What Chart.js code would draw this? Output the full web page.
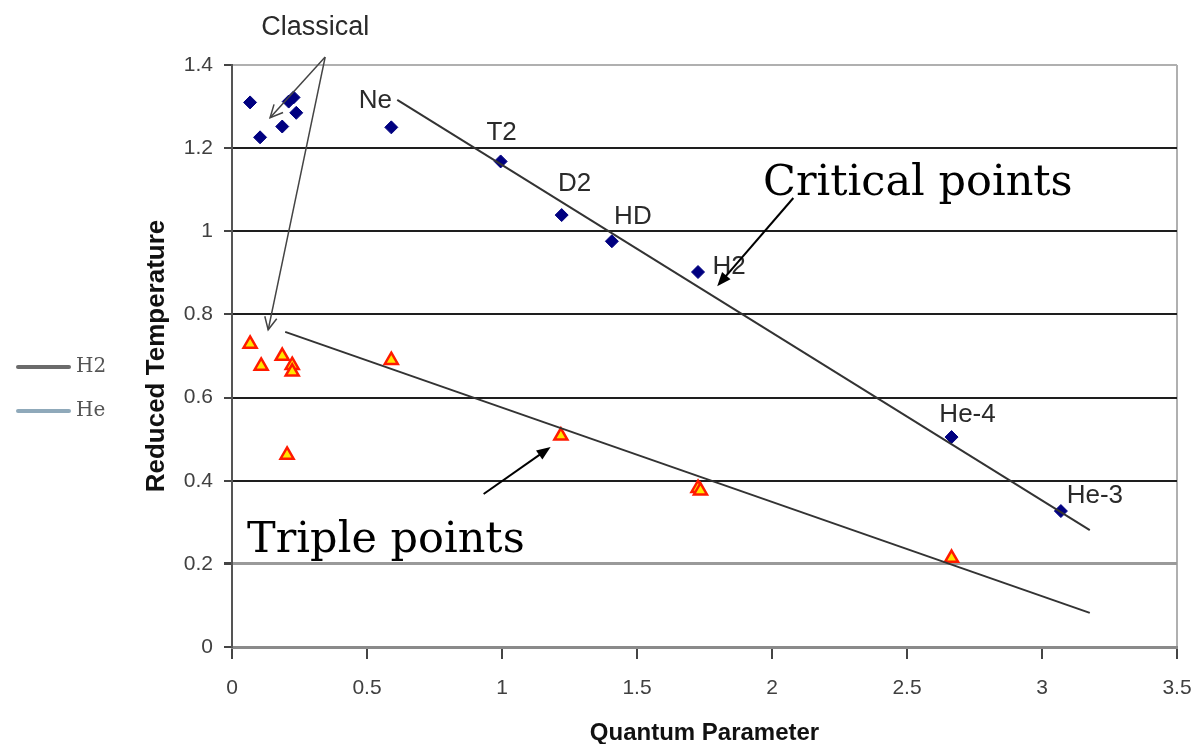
<!DOCTYPE html>
<html>
<head>
<meta charset="utf-8">
<script src="https://cdn.jsdelivr.net/npm/chart.js@4.4.0/dist/chart.umd.min.js"></script>
<style>
  html, body { margin: 0; padding: 0; background: #fff; }
</style>
</head>
<body>
<canvas id="chartContainer" width="1191" height="744"></canvas>
<script>
// critical points (diamonds)
const critX = [0.067, 0.104, 0.186, 0.21, 0.228, 0.238, 0.59, 0.995, 1.221, 1.407, 1.726, 2.665, 3.07];
const critY = [1.31, 1.226, 1.252, 1.312, 1.322, 1.285, 1.25, 1.168, 1.039, 0.976, 0.902, 0.505, 0.327];
const critNames = ['', '', '', '', '', '', 'Ne', 'T2', 'D2', 'HD', 'H2', 'He-4', 'He-3'];

// triple points (triangles)
const tripX = [0.067, 0.108, 0.186, 0.223, 0.223, 0.204, 0.59, 1.218, 1.726, 1.735, 2.665];
const tripY = [0.729, 0.676, 0.700, 0.678, 0.662, 0.462, 0.690, 0.508, 0.382, 0.376, 0.214];

// fitted trend lines
const critFitX = [0.612, 3.177];
const critFitY = [1.316, 0.281];
const tripFitX = [0.197, 3.177];
const tripFitY = [0.758, 0.082];

// legend-only series
const legendNames = ['H2', 'He'];

const xTicks = { min: 0, max: 3.5, step: 0.5 };
const yTicks = { min: 0, max: 1.4, step: 0.2 };

const toPoints = (xs, ys) => xs.map((v, i) => ({ x: v, y: ys[i] }));
const near = (a, b) => Math.abs(a - b) < 1e-6;
const fmt = v => String(+v.toFixed(2));

function arrow(ctx, x1, y1, x2, y2, filled) {
  const a = Math.atan2(y2 - y1, x2 - x1);
  const len = filled ? 15 : 14;
  const spread = filled ? 0.38 : 0.45;
  ctx.beginPath();
  ctx.moveTo(x1, y1);
  ctx.lineTo(filled ? x2 - Math.cos(a) * 8 : x2, filled ? y2 - Math.sin(a) * 8 : y2);
  ctx.stroke();
  ctx.beginPath();
  ctx.moveTo(x2 - len * Math.cos(a - spread), y2 - len * Math.sin(a - spread));
  ctx.lineTo(x2, y2);
  ctx.lineTo(x2 - len * Math.cos(a + spread), y2 - len * Math.sin(a + spread));
  if (filled) { ctx.closePath(); ctx.fill(); } else { ctx.stroke(); }
}

// text labels, arrows and the little legend on the left
const annotate = {
  id: 'annotate',
  afterDraw(chart) {
    const { ctx, scales: { x, y } } = chart;
    const px = v => x.getPixelForValue(v);
    const py = v => y.getPixelForValue(v);
    ctx.save();

    // point names, offset from their points
    const nameOffsets = {
      'Ne': [-16, -27], 'T2': [1, -29], 'D2': [13, -31], 'HD': [21, -24],
      'H2': [31, -5], 'He-4': [16, -22], 'He-3': [34, -15]
    };
    ctx.font = '26px "Liberation Sans", Arial, sans-serif';
    ctx.fillStyle = '#2a2a2a';
    ctx.textAlign = 'center';
    ctx.textBaseline = 'middle';
    critNames.forEach((name, i) => {
      if (!name) return;
      const off = nameOffsets[name];
      ctx.fillText(name, px(critX[i]) + off[0], py(critY[i]) + off[1]);
    });

    // "Classical" with two open arrows
    ctx.font = '27px "Liberation Sans", Arial, sans-serif';
    ctx.fillText('Classical', px(0.308), py(1.489));
    ctx.strokeStyle = '#444';
    ctx.lineWidth = 1.5;
    arrow(ctx, px(0.345), py(1.419), px(0.141), py(1.273), false);
    arrow(ctx, px(0.345), py(1.419), px(0.134), py(0.763), false);

    // big serif captions with filled arrows
    ctx.fillStyle = '#000';
    ctx.strokeStyle = '#000';
    ctx.lineWidth = 2;
    ctx.textAlign = 'left';
    ctx.textBaseline = 'alphabetic';
    ctx.font = '43px "DejaVu Serif", serif';
    ctx.fillText('Critical points', px(1.967), py(1.088));
    ctx.fillText('Triple points', px(0.056), py(0.228));
    arrow(ctx, px(2.079), py(1.080), px(1.797), py(0.868), true);
    arrow(ctx, px(0.932), py(0.368), px(1.180), py(0.481), true);

    // legend on the left
    ctx.font = '20px "DejaVu Serif", serif';
    ctx.textBaseline = 'middle';
    ctx.lineCap = 'round';
    ctx.lineWidth = 4;
    legendNames.forEach((name, i) => {
      const ds = chart.data.datasets.find(d => d.label === name);
      const ly = 367 + i * 44;
      ctx.strokeStyle = ds.borderColor;
      ctx.beginPath();
      ctx.moveTo(18, ly);
      ctx.lineTo(69, ly);
      ctx.stroke();
      ctx.fillStyle = '#555';
      ctx.fillText(name, 76, ly);
    });
    ctx.restore();
  }
};

const tickFont = { family: '"Liberation Sans", Arial, sans-serif', size: 21 };

const ctx = document.getElementById('chartContainer');

new Chart(ctx, {
  type: 'scatter',
  data: {
    datasets: [
      {
        label: 'Critical fit',
        type: 'line',
        data: toPoints(critFitX, critFitY),
        borderColor: '#333',
        borderWidth: 2,
        pointRadius: 0,
        fill: false
      },
      {
        label: 'Triple fit',
        type: 'line',
        data: toPoints(tripFitX, tripFitY),
        borderColor: '#333',
        borderWidth: 2,
        pointRadius: 0,
        fill: false
      },
      {
        label: 'Critical points',
        data: toPoints(critX, critY),
        pointStyle: 'rectRot',
        pointRadius: 6.5,
        backgroundColor: '#000080',
        borderColor: '#000080',
        borderWidth: 1
      },
      {
        label: 'Triple points',
        data: toPoints(tripX, tripY),
        pointStyle: 'triangle',
        pointRadius: 7.5,
        backgroundColor: '#ffe600',
        borderColor: '#ff1a00',
        borderWidth: 2.5
      },
      { label: legendNames[0], type: 'line', data: [], borderColor: '#6b6b6b' },
      { label: legendNames[1], type: 'line', data: [], borderColor: '#8fa9ba' }
    ]
  },
  options: {
    responsive: false,
    animation: false,
    layout: { padding: { top: 65, right: 14, left: 0, bottom: 0 } },
    plugins: {
      legend: { display: false },
      tooltip: { enabled: false }
    },
    scales: {
      x: {
        type: 'linear',
        min: xTicks.min,
        max: xTicks.max,
        afterFit: s => { s.height = 97; s.paddingLeft = 0; s.paddingRight = 0; },
        ticks: { stepSize: xTicks.step, padding: 17, font: tickFont, color: '#404040', callback: fmt },
        grid: {
          color: c => (c.tick && near(c.tick.value, xTicks.max)) ? '#b0b0b0' : 'rgba(0,0,0,0)',
          lineWidth: 2,
          tickColor: '#444',
          tickLength: 12
        },
        border: { color: '#8a8a8a', width: 3 },
        title: {
          display: true,
          text: 'Quantum Parameter',
          color: '#111',
          padding: 0,
          font: { family: '"Liberation Sans", Arial, sans-serif', size: 24, weight: 'bold', lineHeight: 0.9 }
        }
      },
      y: {
        min: yTicks.min,
        max: yTicks.max,
        afterFit: s => { s.width = 232; s.paddingTop = 0; s.paddingBottom = 0; },
        ticks: { stepSize: yTicks.step, padding: 11, font: tickFont, color: '#404040', callback: fmt },
        grid: {
          color: c => {
            const v = c.tick ? c.tick.value : 0;
            if (near(v, yTicks.max)) return '#b0b0b0';
            if (near(v, 0.2)) return '#9a9a9a';
            if (near(v, 0)) return '#8a8a8a';
            return '#1e1e1e';
          },
          lineWidth: c => (c.tick && near(c.tick.value, 0.2)) ? 3 : 2,
          tickColor: '#444',
          tickLength: 8
        },
        border: { color: '#555', width: 2 },
        title: {
          display: true,
          text: 'Reduced Temperature',
          color: '#111',
          padding: { top: 141, bottom: 0 },
          font: { family: '"Liberation Sans", Arial, sans-serif', size: 26, weight: 'bold', lineHeight: 1.2 }
        }
      }
    }
  },
  plugins: [annotate]
});
</script>
</body>
</html>
